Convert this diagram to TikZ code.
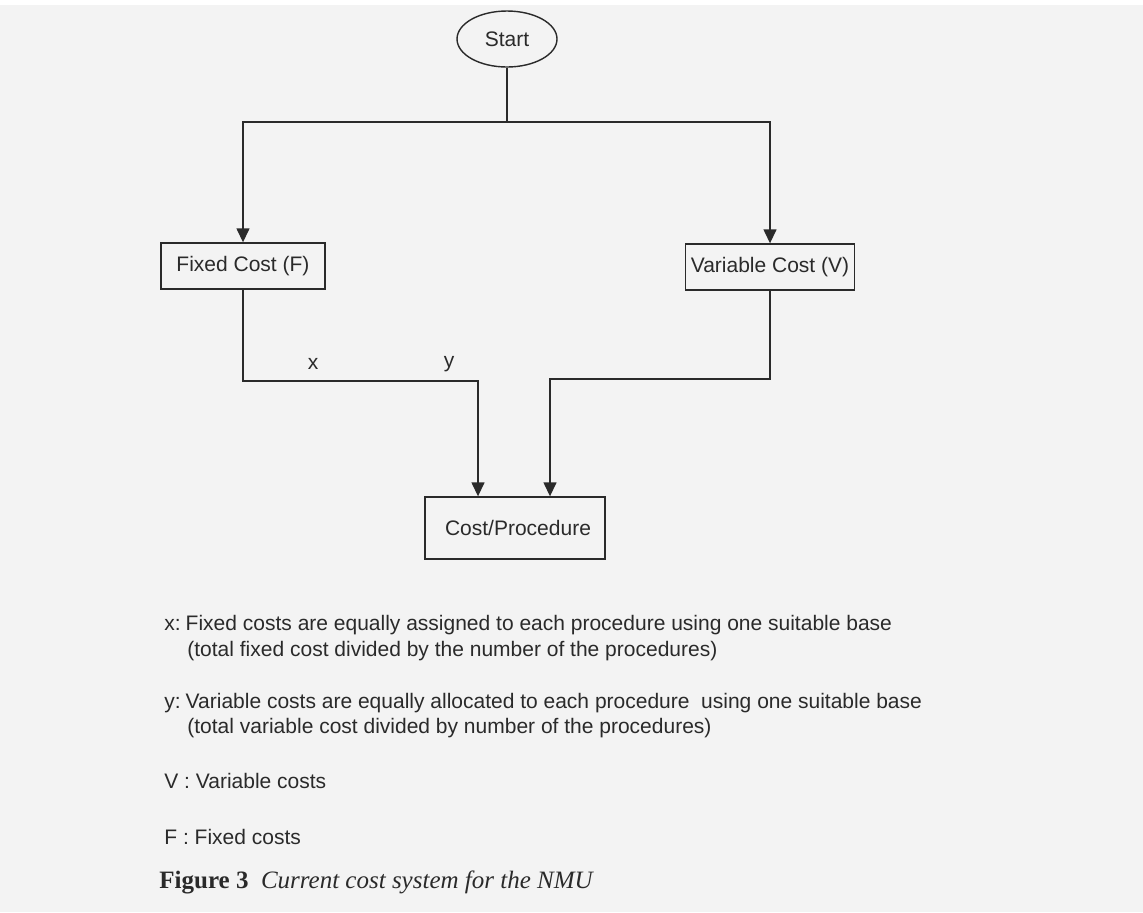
\documentclass[tikz,border=0pt]{standalone}
\usepackage{fontspec}
\setmainfont{Liberation Sans}
\newfontfamily\capfont{Liberation Serif}
\usepackage{tikz}
\usetikzlibrary{shapes.geometric,arrows.meta}
\definecolor{paper}{HTML}{F3F3F3}
\definecolor{ink}{HTML}{2A2A2A}

\begin{document}
\begin{tikzpicture}[x=0.5pt,y=-0.5pt,
  txt/.style={font=\fontsize{10.5}{12}\selectfont,text=ink},
  box/.style={txt,draw=ink,line width=0.7pt,inner sep=0pt},
  line/.style={draw=ink,line width=0.7pt},
  arr/.style={line,-{Triangle[width=6.5pt,length=7pt]}},
  note/.style={txt,anchor=west,inner sep=0pt}]
\useasboundingbox (0,0) rectangle (1143,912);
\fill[paper] (0,5) rectangle (1143,912);

\node[box,ellipse,minimum width=50pt,minimum height=28pt] (start) at (507,39) {Start};
\node[box,minimum width=82pt,minimum height=23pt] (fixed) at (243,266) {Fixed Cost (F)};
\node[box,minimum width=84.5pt,minimum height=23pt] (variable) at (770,267) {Variable Cost (V)};
\node[box,minimum width=90pt,minimum height=31pt] (cost) at (515,528) {\hspace{3pt}Cost/Procedure};

\coordinate (split) at (507,122);
\coordinate (xy) at (478,381);
\coordinate (vc) at (550,379);
\draw[line] (start) -- (split);
\draw[arr] (split) -| (fixed);
\draw[arr] (split) -| (variable);
\draw[arr] (fixed) |- (xy) -- (xy |- cost.north);
\draw[arr] (variable) |- (vc) -- (vc |- cost.north);
\node[txt] (xlab) at (313,364) {x};
\node[txt] (ylab) at (449,364) {y};

% legend
\node[note] (xnote) at (164,625) {x:\hspace{2.5pt}Fixed costs are equally assigned to each procedure using one suitable base};
\node[note] (xnote2) at (187,651) {(total fixed cost divided by the number of the procedures)};
\node[note] (ynote) at (164,703) {y:\hspace{2.5pt}Variable costs are equally allocated to each procedure\ \ using one suitable base};
\node[note] (ynote2) at (187,728) {(total variable cost divided by number of the procedures)};
\node[note] (vnote) at (164,781) {V : Variable costs};
\node[note] (fnote) at (164,837) {F : Fixed costs};
\node[note,font=\capfont\fontsize{12.5}{14}\selectfont] (caption) at (159,882) {\textbf{Figure 3}\ \ \textit{Current cost system for the NMU}};
\end{tikzpicture}
\end{document}
